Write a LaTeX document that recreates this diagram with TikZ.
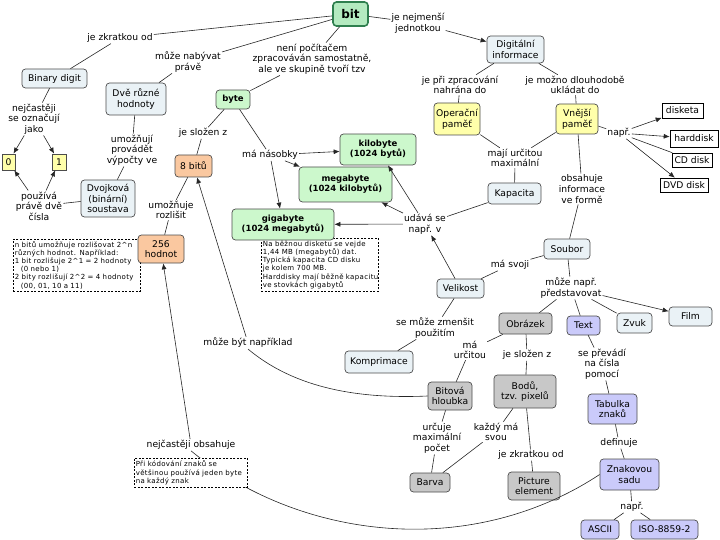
\documentclass[tikz,border=0pt]{standalone}
\usepackage{fontspec}
\setmainfont{DejaVu Sans}
\newfontfamily\notefont[LetterSpace=5]{DejaVu Sans}
\usetikzlibrary{arrows.meta}
\definecolor{cblue}{HTML}{EAF2F6}
\definecolor{cgreen}{HTML}{CCF8CC}
\definecolor{cbitfill}{HTML}{B4EAC0}
\definecolor{cbitdraw}{HTML}{2F7F4F}
\definecolor{cyel}{HTML}{FFFFAA}
\definecolor{corange}{HTML}{FAC8A0}
\definecolor{cgray}{HTML}{C8C8C8}
\definecolor{clav}{HTML}{CACAFA}
\begin{document}
\begin{tikzpicture}[x=1pt,y=-1pt,
  every node/.style={font=\fontsize{9.2}{10.6}\selectfont},
  cpt/.style={draw=black!70, line width=0.7pt, rounded corners=3.5pt, fill=cblue, align=center, inner sep=1pt},
  sz/.style 2 args={minimum width=#1pt, minimum height=#2pt},
  grn/.style={cpt, fill=cgreen, font=\fontsize{8.5}{10}\selectfont\bfseries},
  yel/.style={cpt, fill=cyel},
  ora/.style={cpt, fill=corange},
  gry/.style={cpt, fill=cgray},
  lav/.style={cpt, fill=clav},
  digit/.style={draw=black!70, line width=0.7pt, fill=cyel, inner sep=1pt},
  disk/.style={draw=black, line width=0.6pt, fill=white, inner sep=1pt},
  lab/.style={align=center, inner sep=1pt},
  note/.style={draw=black, dash pattern=on 2pt off 1.5pt, line width=0.6pt, fill=white, align=left, inner sep=1.5pt, anchor=north west, font=\notefont\fontsize{7}{8.1}\selectfont},
  link/.style={draw=black!85, line width=0.6pt},
  arr/.style={link, -{Latex[length=6pt,width=5pt]}}
]
\useasboundingbox (0,0) rectangle (720,540);

% notes (drawn first so concepts lie on top)
\node[note, text width=124pt, minimum height=52pt] (n1) at (13,239) {n bitů umožňuje rozlišovat 2\textasciicircum n\\různých hodnot. Například:\\1 bit rozlišuje 2\textasciicircum 1 = 2 hodnoty\\\hspace*{6pt}(0 nebo 1)\\2 bity rozlišují 2\textasciicircum 2 = 4 hodnoty\\\hspace*{6pt}(00, 01, 10 a 11)};
\node[note, text width=114pt, minimum height=53pt] (n2) at (261,238) {Na běžnou disketu se vejde\\1,44 MB (megabytů) dat.\\Typická kapacita CD disku\\je kolem 700 MB.\\\mbox{Harddisky mají běžně kapacitu}\\ve stovkách gigabytů};

% concepts
\node[cpt, fill=cbitfill, draw=cbitdraw, line width=1.6pt, sz={35}{24}, font=\fontsize{12}{14}\selectfont\bfseries] (bit) at (350.5,14) {bit};
\node[cpt, sz={65}{19}] (binary) at (54.5,78.5) {Binary digit};
\node[cpt, sz={60}{32}] (dve) at (136,99) {Dvě různé\\hodnoty};
\node[grn, sz={34}{19}] (byte) at (233,99.5) {byte};
\node[cpt, sz={57}{27}] (digi) at (515.5,49.5) {Digitální\\informace};
\node[yel, sz={46}{32}] (oper) at (457,119) {Operační\\paměť};
\node[yel, sz={42}{30}] (vnej) at (577,119) {Vnější\\paměť};
\node[disk, minimum width=41pt, minimum height=15pt] (disketa) at (682.5,110.5) {disketa};
\node[disk, minimum width=48pt, minimum height=17pt] (hdd) at (694,138.5) {harddisk};
\node[disk, minimum width=40pt, minimum height=14pt] (cd) at (692,160) {CD disk};
\node[disk, minimum width=48pt, minimum height=14pt] (dvd) at (684,185) {DVD disk};
\node[digit, minimum width=13pt, minimum height=16pt] (zero) at (8.5,162) {0};
\node[digit, minimum width=14pt, minimum height=16pt] (one) at (59,162) {1};
\node[cpt, sz={54}{37}] (dvoj) at (108,198.5) {Dvojková\\(binární)\\soustava};
\node[ora, sz={37}{22}] (bity8) at (193.5,166) {8 bitů};
\node[grn, sz={76}{31}] (kilo) at (378,149.5) {kilobyte\\(1024 bytů)};
\node[grn, sz={93}{35}] (mega) at (345.5,184.5) {megabyte\\(1024 kilobytů)};
\node[grn, sz={102}{31}] (giga) at (283,224.5) {gigabyte\\(1024 megabytů)};
\node[ora, sz={46}{28}] (h256) at (161,249) {256\\hodnot};
\node[cpt, sz={53}{21}] (kapa) at (514.5,193.5) {Kapacita};
\node[cpt, sz={46}{20}] (soubor) at (567,249) {Soubor};
\node[cpt, sz={47}{19}] (velikost) at (460.5,288.5) {Velikost};
\node[gry, sz={53}{21}] (obrazek) at (525.5,323.5) {Obrázek};
\node[lav, sz={33}{19}] (text) at (583.5,325.5) {Text};
\node[cpt, sz={35}{20}] (zvuk) at (634.5,323) {Zvuk};
\node[cpt, sz={43}{19}] (film) at (690.5,316.5) {Film};
\node[cpt, sz={68}{22}] (kompr) at (379,362) {Komprimace};
\node[gry, sz={44}{28}] (bith) at (450,396) {Bitová\\hloubka};
\node[gry, sz={62}{33}] (body) at (525,391.5) {Bodů,\\tzv. pixelů};
\node[lav, sz={49}{30}] (tab) at (612.5,409) {Tabulka\\znaků};
\node[lav, sz={59}{31}] (zsada) at (629.5,474.5) {Znakovou\\sadu};
\node[gry, sz={40}{19}] (barva) at (430,482.5) {Barva};
\node[gry, sz={52}{28}] (pict) at (534,486) {Picture\\element};
\node[lav, sz={38}{19}] (ascii) at (600,529.5) {ASCII};
\node[lav, sz={67}{19}] (iso) at (664.5,529.5) {ISO-8859-2};

% link labels
\node[lab] (L1) at (120,38) {je zkratkou od};
\node[lab] (L2) at (188,62) {může nabývat\\právě};
\node[lab] (L3) at (312,59) {není počítačem\\zpracováván samostatně,\\ale ve skupině tvoří tzv};
\node[lab] (L4) at (418,23) {je nejmenší\\jednotkou};
\node[lab] (L5) at (460,85) {je při zpracování\\nahrána do};
\node[lab] (L6) at (575,85) {je možno dlouhodobě\\ukládat do};
\node[lab] (L7) at (619,133) {např.};
\node[lab] (L8) at (515,158) {mají určitou\\maximální};
\node[lab] (L9) at (582,189) {obsahuje\\informace\\ve formě};
\node[lab] (L10) at (510,265) {má svoji};
\node[lab] (L11) at (571,288) {může např.\\představovat};
\node[lab] (L12) at (425,224) {udává se\\např. v};
\node[lab] (L13) at (270,155) {má násobky};
\node[lab] (L14) at (203,133) {je složen z};
\node[lab] (L15) at (34,119) {nejčastěji\\se označují\\jako};
\node[lab] (L16) at (132,150) {umožňují\\provádět\\výpočty ve};
\node[lab] (L17) at (39,206) {používá\\právě dvě\\čísla};
\node[lab] (L18) at (171,210) {umožňuje\\rozlišit};
\node[lab] (L19) at (248,343) {může být například};
\node[lab] (L20) at (191,445) {nejčastěji obsahuje};
\node[lab] (L21) at (435,328) {se může zmenšit\\použitím};
\node[lab] (L22) at (470,350) {má\\určitou};
\node[lab] (L23) at (527,355) {je složen z};
\node[lab] (L24) at (496,432) {každý má\\svou};
\node[lab] (L25) at (437,438) {určuje\\maximální\\počet};
\node[lab] (L26) at (531,455) {je zkratkou od};
\node[lab] (L27) at (602,364) {se převádí\\na čísla\\pomocí};
\node[lab] (L28) at (619,443) {definuje};
\node[lab] (L29) at (632,507) {např.};

% connectors
\draw[link] (bit) -- (L1); \draw[link] (L1) -- (binary);
\draw[link] (bit) -- (L2); \draw[link] (L2) -- (dve);
\draw[link] (bit) -- (L3); \draw[link] (L3) -- (byte);
\draw[link] (bit) -- (L4); \draw[arr] (L4) -- (digi);
\draw[link] (digi) -- (L5); \draw[link] (L5) -- (oper);
\draw[link] (digi) -- (L6); \draw[link] (L6) -- (vnej);
\draw[link] (vnej) -- (L7);
\draw[arr] (L7) -- (disketa); \draw[arr] (L7) -- (hdd);
\draw[link] (L7) -- (cd); \draw[arr] (L7) -- (dvd);
\draw[link] (oper) -- (L8); \draw[link] (vnej) -- (L8); \draw[link] (L8) -- (kapa);
\draw[link] (vnej) -- (L9); \draw[link] (L9) -- (soubor);
\draw[link] (soubor) -- (L10); \draw[link] (L10) -- (velikost);
\draw[link] (soubor) -- (L11);
\draw[link] (L11) -- (obrazek); \draw[link] (L11) -- (text);
\draw[link] (L11) -- (zvuk); \draw[arr] (L11) -- (film);
\draw[arr] (velikost) -- (L12); \draw[link] (kapa) -- (L12);
\draw[arr] (L12) -- (kilo); \draw[arr] (L12) -- (mega); \draw[arr] (L12) -- (giga);
\draw[link] (byte) -- (L13);
\draw[arr] (L13) -- (kilo); \draw[arr] (L13) -- (mega); \draw[arr] (L13) -- (giga);
\draw[link] (byte) -- (L14); \draw[link] (L14) -- (bity8);
\draw[link] (binary) -- (L15); \draw[arr] (L15) -- (zero); \draw[arr] (L15) -- (one);
\draw[link] (dve) -- (L16); \draw[link] (L16) -- (dvoj);
\draw[link] (dvoj) -- (L17); \draw[arr] (L17) -- (zero); \draw[arr] (L17) -- (one);
\draw[link] (bity8) -- (L18); \draw[link] (L18) -- (h256);
\draw[link] (bith.west) .. controls (340,400) and (285,380) .. (L19.south);
\draw[arr] (L19) -- (bity8);
\draw[link] (zsada.west) .. controls (470,560) and (300,540) .. (L20.south);
\draw[arr] (L20) -- (h256);
\draw[link] (velikost) -- (L21); \draw[link] (L21) -- (kompr);
\draw[link] (obrazek) -- (L22); \draw[link] (L22) -- (bith);
\draw[link] (obrazek) -- (L23); \draw[link] (L23) -- (body);
\draw[link] (body) -- (L24); \draw[link] (L24) -- (barva);
\draw[link] (bith) -- (L25); \draw[link] (L25) -- (barva);
\draw[link] (body) -- (L26); \draw[link] (L26) -- (pict);
\draw[link] (text) -- (L27); \draw[link] (L27) -- (tab);
\draw[link] (tab) -- (L28); \draw[link] (L28) -- (zsada);
\draw[link] (zsada) -- (L29); \draw[link] (L29) -- (ascii); \draw[link] (L29) -- (iso);

% note over the long curve
\node[note, text width=110pt, minimum height=29pt] (n3) at (134,458) {Při kódování znaků se\\většinou používá jeden byte\\na každý znak};
\end{tikzpicture}
\end{document}
